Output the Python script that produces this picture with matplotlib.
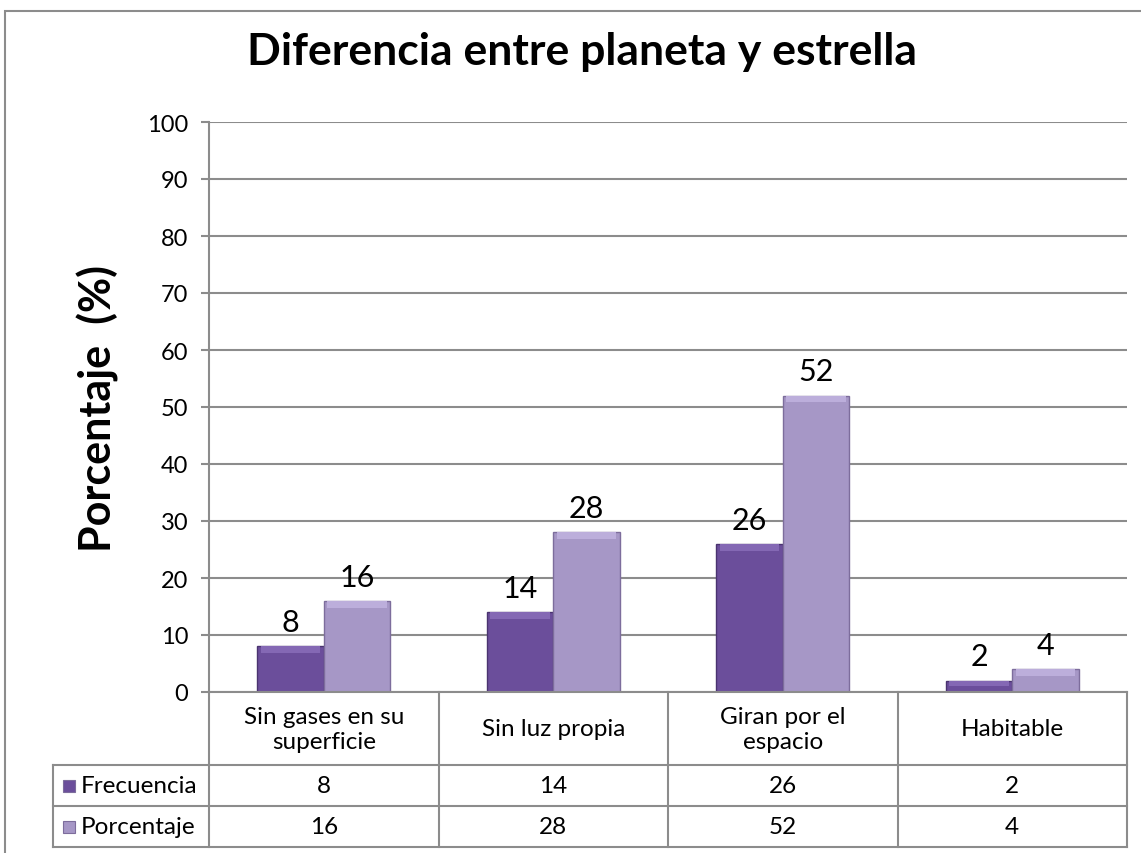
import matplotlib.pyplot as plt
import matplotlib.transforms as mtransforms
from matplotlib.patches import Rectangle
from matplotlib.lines import Line2D
import numpy as np

categorias = ["Sin gases en su\nsuperficie", "Sin luz propia", "Giran por el\nespacio", "Habitable"]
frecuencia = [8, 14, 26, 2]
porcentaje = [16, 28, 52, 4]
series = ["Frecuencia", "Porcentaje"]
titulo = "Diferencia entre planeta y estrella"

W, H = 1141, 854
plt.rcParams['font.family'] = ['Lato', 'DejaVu Sans']

fig = plt.figure(figsize=(W / 100, H / 100), dpi=100)
fig.patch.set_facecolor("white")

def fx(px):
    return px / W

def fy(py):
    return 1 - py / H

# outer chart border
fig.add_artist(Rectangle((fx(5), fy(H + 5)), fx(W + 5), fy(12) - fy(H + 5),
                         transform=fig.transFigure, fill=False,
                         edgecolor="#8c8c8c", linewidth=1.5))

ax = fig.add_axes([fx(209), fy(693), fx(1127) - fx(209), fy(123) - fy(693)])
x = np.arange(len(categorias))
w = 0.29
c_dark, c_light = "#6b4e9b", "#a697c6"
b1 = ax.bar(x - w / 2, frecuencia, w, color=c_dark, edgecolor="#4a3370", linewidth=1, zorder=3)
b2 = ax.bar(x + w / 2, porcentaje, w, color=c_light, edgecolor="#7d6d9c", linewidth=1, zorder=3)
# top bevel highlight
ax.bar(x - w / 2, [min(1.2, v / 2) for v in frecuencia], w * 0.9,
       bottom=[v - min(1.2, v / 2) for v in frecuencia], color="#8468b4", linewidth=0, zorder=4)
ax.bar(x + w / 2, [min(1.2, v / 2) for v in porcentaje], w * 0.9,
       bottom=[v - min(1.2, v / 2) for v in porcentaje], color="#bcaedb", linewidth=0, zorder=4)

for bars, vals in ((b1, frecuencia), (b2, porcentaje)):
    for r, v in zip(bars, vals):
        ax.text(r.get_x() + r.get_width() / 2, v + 1.8, str(v), ha="center", va="bottom",
                fontsize=22, color="black", zorder=5)

ax.set_xlim(-0.5, len(categorias) - 0.5)
ax.set_ylim(0, 100)
ax.set_yticks(range(0, 101, 10))
ax.set_xticks([])
ax.tick_params(axis="y", labelsize=17, length=6, width=1.5, color="#8c8c8c", pad=9)
ax.grid(axis="y", color="#8c8c8c", linewidth=1.5, zorder=0)
for s in ("top", "right", "bottom"):
    ax.spines[s].set_visible(False)
ax.spines["left"].set_color("#8c8c8c")
ax.spines["left"].set_linewidth(1.5)

ax.set_ylabel("Porcentaje  (%)", fontsize=31, fontweight="bold", labelpad=20)
fig.text(fx(582), fy(52), titulo, ha="center", va="center", fontsize=32, fontweight="bold")

# data table below the axis
bt = mtransforms.blended_transform_factory(ax.transData, fig.transFigure)
lc = "#8c8c8c"
rows_y = [693, 766, 807, 848]
for py in rows_y:
    x0 = 209 if py == 693 else 53
    fig.add_artist(Line2D([fx(x0), fx(1127)], [fy(py), fy(py)], transform=fig.transFigure,
                          color=lc, linewidth=1.5))
for xb in np.arange(-0.5, len(categorias), 1.0):
    fig.add_artist(Line2D([xb, xb], [fy(693), fy(848)], transform=bt, color=lc, linewidth=1.5))
fig.add_artist(Line2D([fx(53), fx(53)], [fy(766), fy(848)], transform=fig.transFigure,
                      color=lc, linewidth=1.5))

for i, cat in enumerate(categorias):
    fig.text(i, fy(730), cat, transform=bt, ha="center", va="center", fontsize=17.5,
             linespacing=1.2)
    fig.text(i, fy(787), str(frecuencia[i]), transform=bt, ha="center", va="center", fontsize=17.5)
    fig.text(i, fy(828), str(porcentaje[i]), transform=bt, ha="center", va="center", fontsize=17.5)

for name, col, yc in ((series[0], c_dark, 787), (series[1], c_light, 828)):
    fig.add_artist(Rectangle((fx(63), fy(yc + 6)), fx(12), fy(yc - 6) - fy(yc + 6),
                             transform=fig.transFigure, facecolor=col,
                             edgecolor="#7d6d9c", linewidth=0.8))
    fig.text(fx(81), fy(yc), name, ha="left", va="center", fontsize=17.5)

fig.savefig("out.png", dpi=100)
